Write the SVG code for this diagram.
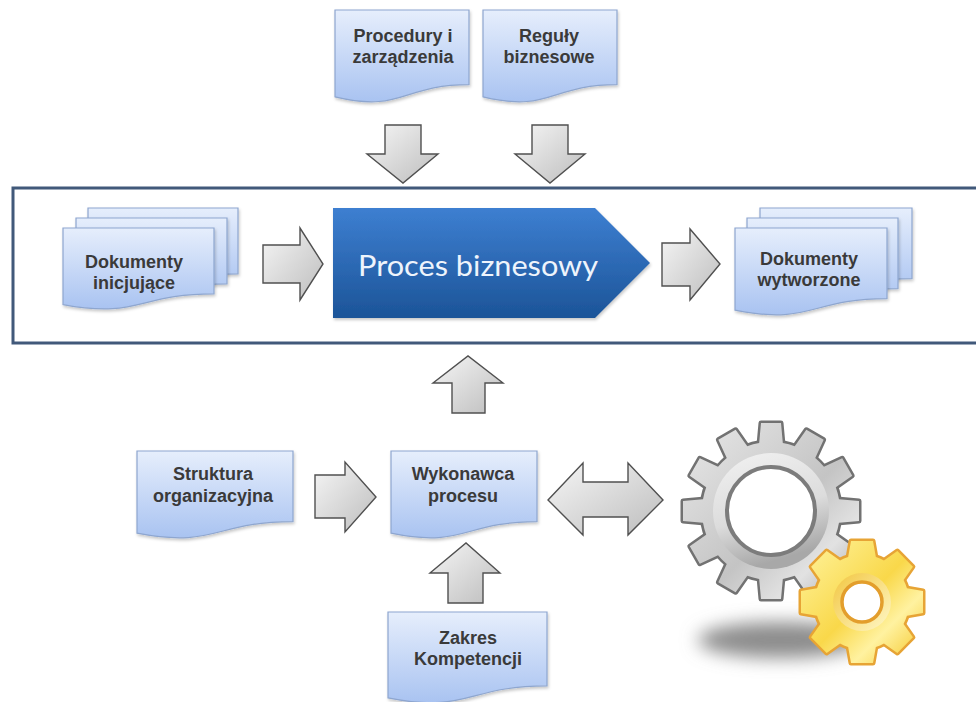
<svg xmlns="http://www.w3.org/2000/svg" xmlns:xlink="http://www.w3.org/1999/xlink" width="976" height="702" viewBox="0 0 976 702">
  <defs>
    <style>
      .doc { fill: url(#docFill); stroke: #8ea6cf; stroke-width: 1.2; filter: url(#softShadow); }
      .doctxt { font-family: "Liberation Sans", Arial, sans-serif; font-weight: bold; font-size: 18px; fill: #3a3a3a; text-anchor: middle; }
      .arrow { fill: url(#arrowFill); stroke: #505050; stroke-width: 1.4; stroke-linejoin: miter; }
    </style>
    <linearGradient id="docFill" x1="0" y1="0" x2="0" y2="1">
      <stop offset="0" stop-color="#e6eefc"/>
      <stop offset="1" stop-color="#a9c3f1"/>
    </linearGradient>
    <linearGradient id="arrowFill" x1="0" y1="0" x2="1" y2="1">
      <stop offset="0" stop-color="#f6f6f6"/>
      <stop offset="1" stop-color="#bdbdbd"/>
    </linearGradient>
    <linearGradient id="procFill" x1="0" y1="0" x2="0" y2="1">
      <stop offset="0" stop-color="#3d7fd1"/>
      <stop offset="1" stop-color="#1c5498"/>
    </linearGradient>
    <linearGradient id="grayBody" x1="0" y1="0" x2="1" y2="1">
      <stop offset="0" stop-color="#ececec"/>
      <stop offset="0.55" stop-color="#c4c4c4"/>
      <stop offset="0.75" stop-color="#e2e2e2"/>
      <stop offset="1" stop-color="#9a9a9a"/>
    </linearGradient>
    <linearGradient id="grayRing" x1="0" y1="0" x2="0.3" y2="1">
      <stop offset="0" stop-color="#f2f2f2"/>
      <stop offset="0.6" stop-color="#dcdcdc"/>
      <stop offset="1" stop-color="#a8a8a8"/>
    </linearGradient>
    <linearGradient id="yellowBody" x1="0" y1="0" x2="1" y2="1">
      <stop offset="0" stop-color="#fff6a6"/>
      <stop offset="0.5" stop-color="#f9d84a"/>
      <stop offset="0.7" stop-color="#fff2a0"/>
      <stop offset="1" stop-color="#f3bf16"/>
    </linearGradient>
    <linearGradient id="yellowRing" x1="0" y1="0" x2="1" y2="1">
      <stop offset="0" stop-color="#f2c640"/>
      <stop offset="1" stop-color="#fff8c8"/>
    </linearGradient>
    <filter id="softShadow" x="-10%" y="-10%" width="130%" height="130%">
      <feDropShadow dx="1" dy="2" stdDeviation="1.5" flood-color="#000" flood-opacity="0.22"/>
    </filter>
    <filter id="blurShadow" x="-30%" y="-80%" width="160%" height="260%">
      <feGaussianBlur stdDeviation="9"/>
    </filter>

    <!-- gear teeth, pointing up from the gear centre -->
    <polygon id="toothBig" points="-12,-66 -10,-88 10,-88 12,-66"/>
    <polygon id="toothSmall" points="-14,-44 -11,-61 11,-61 14,-44"/>

    <g id="bigGearShape">
      <circle r="69"/>
      <use xlink:href="#toothBig"/>
      <use xlink:href="#toothBig" transform="rotate(30)"/>
      <use xlink:href="#toothBig" transform="rotate(60)"/>
      <use xlink:href="#toothBig" transform="rotate(90)"/>
      <use xlink:href="#toothBig" transform="rotate(120)"/>
      <use xlink:href="#toothBig" transform="rotate(150)"/>
      <use xlink:href="#toothBig" transform="rotate(180)"/>
      <use xlink:href="#toothBig" transform="rotate(210)"/>
      <use xlink:href="#toothBig" transform="rotate(240)"/>
      <use xlink:href="#toothBig" transform="rotate(270)"/>
      <use xlink:href="#toothBig" transform="rotate(300)"/>
      <use xlink:href="#toothBig" transform="rotate(330)"/>
    </g>
    <clipPath id="bigGearClip">
      <circle cx="771" cy="511" r="69"/>
      <use xlink:href="#toothBig" transform="translate(771 511)"/>
      <use xlink:href="#toothBig" transform="translate(771 511) rotate(30)"/>
      <use xlink:href="#toothBig" transform="translate(771 511) rotate(60)"/>
      <use xlink:href="#toothBig" transform="translate(771 511) rotate(90)"/>
      <use xlink:href="#toothBig" transform="translate(771 511) rotate(120)"/>
      <use xlink:href="#toothBig" transform="translate(771 511) rotate(150)"/>
      <use xlink:href="#toothBig" transform="translate(771 511) rotate(180)"/>
      <use xlink:href="#toothBig" transform="translate(771 511) rotate(210)"/>
      <use xlink:href="#toothBig" transform="translate(771 511) rotate(240)"/>
      <use xlink:href="#toothBig" transform="translate(771 511) rotate(270)"/>
      <use xlink:href="#toothBig" transform="translate(771 511) rotate(300)"/>
      <use xlink:href="#toothBig" transform="translate(771 511) rotate(330)"/>
    </clipPath>

    <g id="smallGearShape">
      <circle r="47"/>
      <use xlink:href="#toothSmall"/>
      <use xlink:href="#toothSmall" transform="rotate(45)"/>
      <use xlink:href="#toothSmall" transform="rotate(90)"/>
      <use xlink:href="#toothSmall" transform="rotate(135)"/>
      <use xlink:href="#toothSmall" transform="rotate(180)"/>
      <use xlink:href="#toothSmall" transform="rotate(225)"/>
      <use xlink:href="#toothSmall" transform="rotate(270)"/>
      <use xlink:href="#toothSmall" transform="rotate(315)"/>
    </g>
    <clipPath id="smallGearClip">
      <circle cx="862" cy="602" r="47"/>
      <use xlink:href="#toothSmall" transform="translate(862 602)"/>
      <use xlink:href="#toothSmall" transform="translate(862 602) rotate(45)"/>
      <use xlink:href="#toothSmall" transform="translate(862 602) rotate(90)"/>
      <use xlink:href="#toothSmall" transform="translate(862 602) rotate(135)"/>
      <use xlink:href="#toothSmall" transform="translate(862 602) rotate(180)"/>
      <use xlink:href="#toothSmall" transform="translate(862 602) rotate(225)"/>
      <use xlink:href="#toothSmall" transform="translate(862 602) rotate(270)"/>
      <use xlink:href="#toothSmall" transform="translate(862 602) rotate(315)"/>
    </clipPath>
  </defs>

  <rect width="976" height="702" fill="#ffffff"/>

  <!-- process frame (open to the right) -->
  <rect id="process-frame" x="13" y="188" width="1000" height="155" fill="none" stroke="#41597a" stroke-width="3"/>

  <!-- connectors -->
  <g id="connectors">
    <polygon class="arrow" points="385,125 421,125 421,154 438,154 403,183 367,154 385,154"/>
    <polygon class="arrow" points="532,125 568,125 568,154 585,154 550,183 515,154 532,154"/>
    <polygon class="arrow" points="263,245 300,245 300,228 323,264 300,300 300,283 263,283"/>
    <polygon class="arrow" points="662,243 690,243 690,229 720,264 690,300 690,286 662,286"/>
    <polygon class="arrow" points="452,413 485,413 485,383 503,383 468,356 433,383 452,383"/>
    <polygon class="arrow" points="315,475 345,475 345,462 376,497 345,532 345,518 315,518"/>
    <polygon class="arrow" points="448,603 483,603 483,573 500,573 466,543 430,573 448,573"/>
    <polygon class="arrow" points="548,500 583,463 583,482 628,482 628,463 663,500 628,535 628,517 583,517 583,535"/>
  </g>

  <!-- top inputs -->
  <g id="procedury">
    <path class="doc" d="M335 10 H469 V84.6 C402 84.6 402 113 335 96.9 Z"/>
    <text class="doctxt" x="403" y="42">Procedury i</text>
    <text class="doctxt" x="403" y="63">zarządzenia</text>
  </g>
  <g id="reguly">
    <path class="doc" d="M483 10 H617 V84.6 C550 84.6 550 113 483 96.9 Z"/>
    <text class="doctxt" x="549" y="42">Reguły</text>
    <text class="doctxt" x="549" y="63">biznesowe</text>
  </g>

  <!-- document stacks -->
  <g id="dokumenty-inicjujace">
    <path class="doc" d="M88 208 H238 V273.8 C163 273.8 163 298.8 88 284.6 Z"/>
    <path class="doc" d="M76 218 H227 V283.8 C151.5 283.8 151.5 308.8 76 294.6 Z"/>
    <path class="doc" d="M63 228 H214 V293.8 C138.5 293.8 138.5 318.8 63 304.6 Z"/>
    <text class="doctxt" x="134" y="268">Dokumenty</text>
    <text class="doctxt" x="134" y="289">inicjujące</text>
  </g>

  <g id="proces-biznesowy">
    <polygon points="333,208 595,208 650,263 595,318 333,318" fill="url(#procFill)" filter="url(#softShadow)"/>
    <text x="358" y="276" font-family="Lato, 'Open Sans', sans-serif" font-size="29" fill="#eef4fc" textLength="240" lengthAdjust="spacingAndGlyphs">Proces biznesowy</text>
  </g>

  <g id="dokumenty-wytworzone">
    <path class="doc" d="M760 208 H912 V278.6 C836 278.6 836 305.4 760 290.2 Z"/>
    <path class="doc" d="M747 218 H898 V288.6 C822.5 288.6 822.5 315.4 747 300.2 Z"/>
    <path class="doc" d="M735 228 H887 V298.6 C811 298.6 811 325.4 735 310.2 Z"/>
    <text class="doctxt" x="809" y="265">Dokumenty</text>
    <text class="doctxt" x="809" y="286">wytworzone</text>
  </g>

  <!-- lower row -->
  <g id="struktura">
    <path class="doc" d="M137 451 H293 V521.6 C215 521.6 215 548.4 137 533.2 Z"/>
    <text class="doctxt" x="213" y="480">Struktura</text>
    <text class="doctxt" x="213" y="502">organizacyjna</text>
  </g>
  <g id="wykonawca">
    <path class="doc" d="M391 451 H537 V521.6 C464 521.6 464 548.4 391 533.2 Z"/>
    <text class="doctxt" x="463" y="480">Wykonawca</text>
    <text class="doctxt" x="463" y="502">procesu</text>
  </g>
  <g id="zakres">
    <path class="doc" d="M388 612 H547 V685.8 C467.5 685.8 467.5 713.8 388 697.9 Z"/>
    <text class="doctxt" x="468" y="644">Zakres</text>
    <text class="doctxt" x="468" y="665">Kompetencji</text>
  </g>

  <!-- gears -->
  <g id="system">
    <ellipse cx="780" cy="640" rx="82" ry="18" fill="#8c8c8c" filter="url(#blurShadow)"/>

    <use xlink:href="#bigGearShape" transform="translate(771 511)" fill="#727272" stroke="#727272" stroke-width="5" stroke-linejoin="round"/>
    <rect x="675" y="415" width="192" height="192" fill="url(#grayBody)" clip-path="url(#bigGearClip)"/>
    <circle cx="771" cy="511" r="58" fill="url(#grayRing)"/>
    <circle cx="771" cy="511" r="44" fill="#ffffff" stroke="#7c7c7c" stroke-width="4"/>

    <use xlink:href="#smallGearShape" transform="translate(862 602)" fill="#e7a435" stroke="#e7a435" stroke-width="5" stroke-linejoin="round"/>
    <rect x="797" y="537" width="130" height="130" fill="url(#yellowBody)" clip-path="url(#smallGearClip)"/>
    <circle cx="862" cy="602" r="29" fill="url(#yellowRing)"/>
    <circle cx="862" cy="602" r="20" fill="#ffffff" stroke="#e39e2c" stroke-width="3.5"/>
  </g>
</svg>
